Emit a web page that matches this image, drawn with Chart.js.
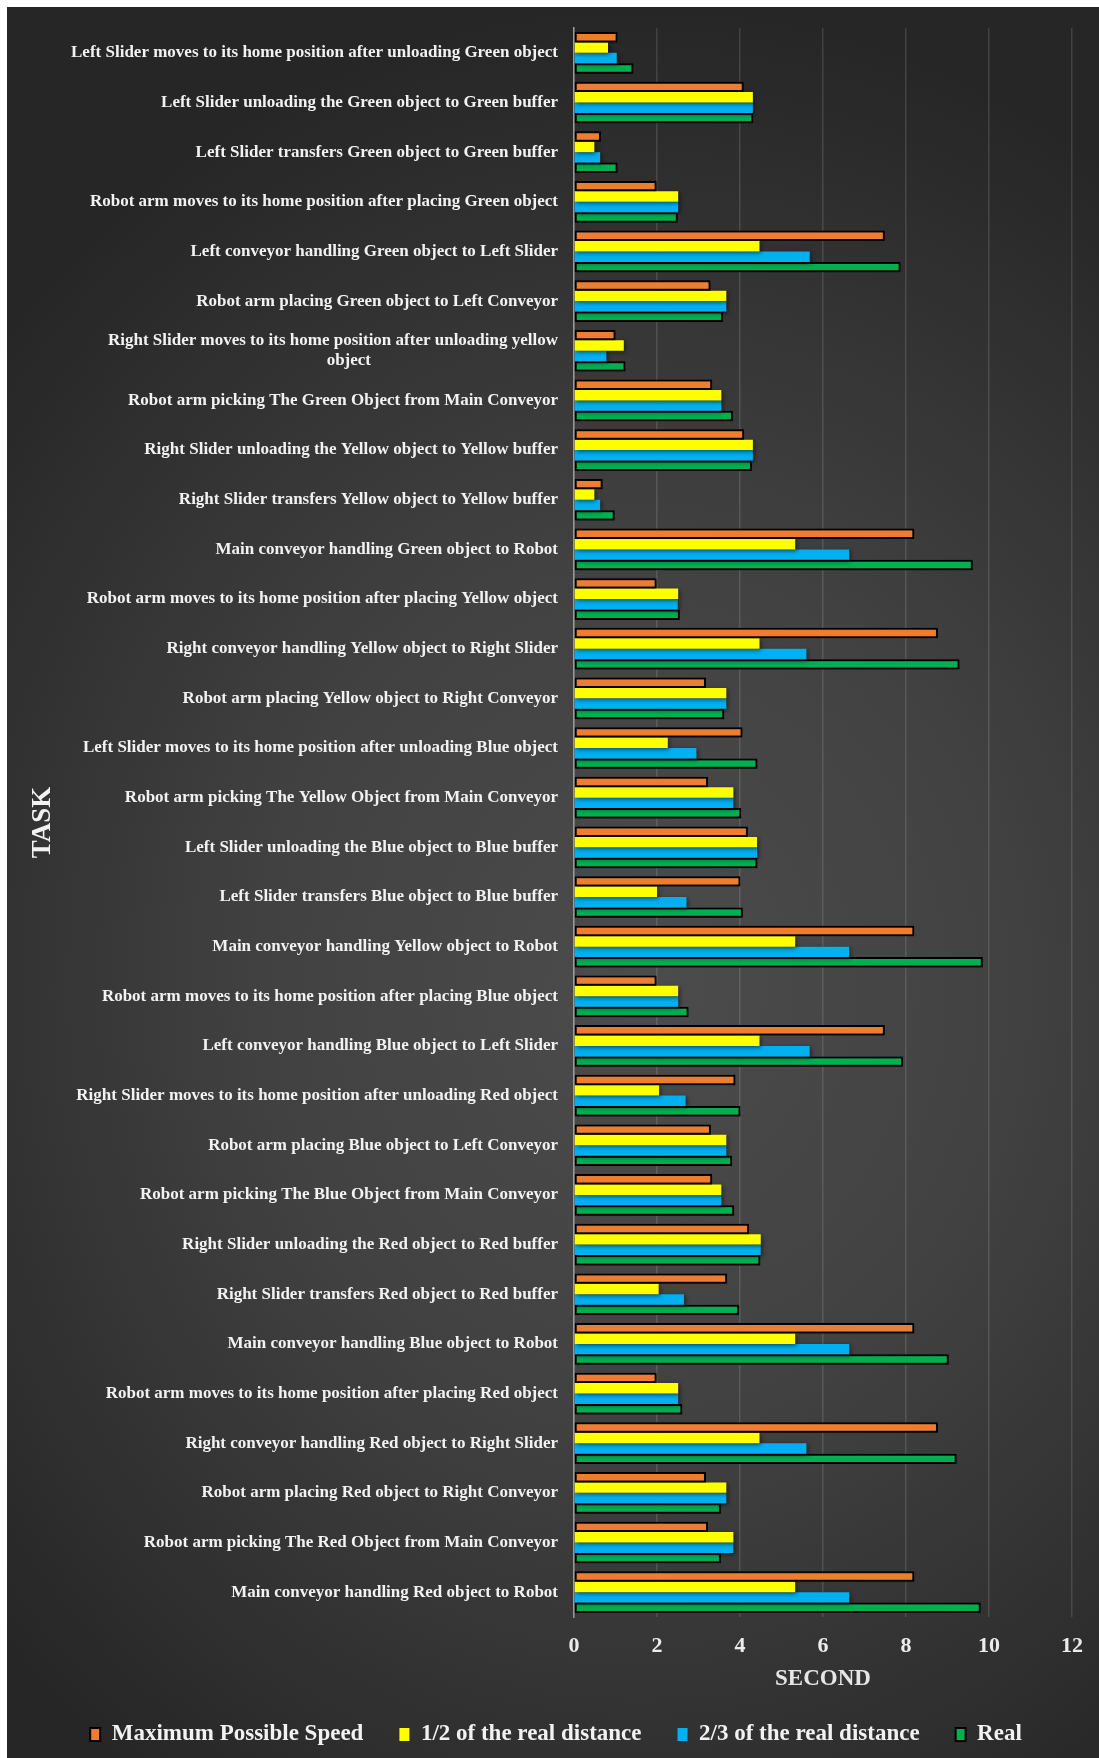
<!DOCTYPE html>
<html>
<head>
<meta charset="utf-8">
<title>Task durations</title>
<script src="https://cdn.jsdelivr.net/npm/chart.js@4.4.1/dist/chart.umd.min.js"></script>
<style>
  html, body { margin: 0; padding: 0; background: #fff; }
  .chart-wrap {
    position: absolute;
    left: 7px;
    top: 7px;
    width: 1092px;
    height: 1751px;
    background: radial-gradient(ellipse 78% 56% at 58% 56%, #4c4c4c 0%, #414141 45%, #262626 100%);
  }
</style>
</head>
<body>
<div class="chart-wrap"><canvas id="taskChart"></canvas></div>
<script>
  const tasks = [
    "Left Slider moves to its home position after unloading Green object",
    "Left Slider unloading the Green object to Green buffer",
    "Left Slider transfers Green object to Green buffer",
    "Robot arm moves to its home position after placing Green object",
    "Left conveyor handling Green object to Left Slider",
    "Robot arm placing Green object to Left Conveyor",
    ["Right Slider moves to its home position after unloading yellow", "object" + "\u00a0".repeat(44)],
    "Robot arm picking The Green Object from Main Conveyor",
    "Right Slider unloading the Yellow object to Yellow buffer",
    "Right Slider transfers Yellow object to Yellow buffer",
    "Main conveyor handling Green object to Robot",
    "Robot arm moves to its home position after placing Yellow object",
    "Right conveyor handling Yellow object to Right Slider",
    "Robot arm placing Yellow object to Right Conveyor",
    "Left Slider moves to its home position after unloading Blue object",
    "Robot arm picking The Yellow Object from Main Conveyor",
    "Left Slider unloading the Blue object to Blue buffer",
    "Left Slider transfers Blue object to Blue buffer",
    "Main conveyor handling Yellow object to Robot",
    "Robot arm moves to its home position after placing Blue object",
    "Left conveyor handling Blue object to Left Slider",
    "Right Slider moves to its home position after unloading Red object",
    "Robot arm placing Blue object to Left Conveyor",
    "Robot arm picking The Blue Object from Main Conveyor",
    "Right Slider unloading the Red object to Red buffer",
    "Right Slider transfers Red object to Red buffer",
    "Main conveyor handling Blue object to Robot",
    "Robot arm moves to its home position after placing Red object",
    "Right conveyor handling Red object to Right Slider",
    "Robot arm placing Red object to Right Conveyor",
    "Robot arm picking The Red Object from Main Conveyor",
    "Main conveyor handling Red object to Robot"
  ];

  // seconds per task, same order as tasks
  const maxSpeed = [1.05, 4.09, 0.65, 1.99, 7.49, 3.29, 1.00, 3.33, 4.10, 0.69, 8.20, 1.99, 8.77, 3.18, 4.06, 3.23,
                    4.19, 4.01, 8.20, 1.99, 7.49, 3.89, 3.30, 3.33, 4.22, 3.69, 8.20, 1.99, 8.77, 3.18, 3.23, 8.20];
  const halfDistance = [0.82, 4.31, 0.49, 2.51, 4.47, 3.67, 1.20, 3.55, 4.31, 0.49, 5.33, 2.51, 4.47, 3.67, 2.26, 3.84,
                        4.41, 2.00, 5.33, 2.51, 4.47, 2.05, 3.67, 3.55, 4.50, 2.04, 5.33, 2.51, 4.47, 3.67, 3.84, 5.33];
  const twoThirdDistance = [1.03, 4.31, 0.63, 2.51, 5.68, 3.67, 0.78, 3.55, 4.31, 0.63, 6.63, 2.50, 5.60, 3.67, 2.95, 3.84,
                            4.41, 2.71, 6.63, 2.51, 5.68, 2.69, 3.67, 3.55, 4.50, 2.65, 6.63, 2.51, 5.60, 3.67, 3.84, 6.63];
  const realTime = [1.43, 4.32, 1.05, 2.50, 7.87, 3.59, 1.24, 3.83, 4.29, 0.98, 9.61, 2.55, 9.29, 3.62, 4.42, 4.03,
                    4.42, 4.07, 9.85, 2.76, 7.93, 4.01, 3.81, 3.86, 4.49, 3.98, 9.03, 2.61, 9.22, 3.54, 3.54, 9.80];

  const xMin = 0, xMax = 12, xStep = 2;

  const serif = "'Liberation Serif', 'Times New Roman', serif";
  const textColor = "#f2f2f2";

  // soft dark shadow under the bars
  const barShadow = {
    id: "barShadow",
    beforeDatasetsDraw(chart) {
      const ctx = chart.ctx;
      ctx.save();
      ctx.shadowColor = "rgba(0,0,0,0.55)";
      ctx.shadowBlur = 4;
      ctx.shadowOffsetX = 1.5;
      ctx.shadowOffsetY = 1.5;
    },
    afterDatasetsDraw(chart) {
      chart.ctx.restore();
    }
  };

  function series(label, data, color, border) {
    return {
      label,
      data,
      backgroundColor: color,
      borderColor: "#000",
      borderWidth: border,
      borderSkipped: false,
      categoryPercentage: 0.84,
      barPercentage: 1.0
    };
  }

  new Chart(document.getElementById("taskChart"), {
    type: "bar",
    data: {
      labels: tasks,
      datasets: [
        series("Maximum Possible Speed", maxSpeed, "#ED7D31", 2),
        series("1/2 of the real distance", halfDistance, "#FFFF00", 0),
        series("2/3 of the real distance", twoThirdDistance, "#00B0F0", 0),
        series("Real", realTime, "#00B050", 2)
      ]
    },
    plugins: [barShadow],
    options: {
      indexAxis: "y",
      responsive: true,
      maintainAspectRatio: false,
      animation: false,
      devicePixelRatio: 1,
      // left padding nudges the centred legend to the right
      layout: { padding: { top: 21, right: 25, bottom: 2, left: 31 } },
      scales: {
        x: {
          min: xMin,
          max: xMax,
          ticks: {
            stepSize: xStep,
            color: "#ececec",
            padding: 16,
            font: { family: serif, size: 22, weight: "bold" }
          },
          grid: { color: "rgba(255,255,255,0.13)", lineWidth: 1.5, drawTicks: false },
          border: { display: false },
          title: {
            display: true,
            text: "SECOND",
            color: "#e6e6e6",
            padding: { top: 0, bottom: -6 },
            font: { family: serif, size: 23, weight: "bold" }
          },
          afterFit(scale) { scale.height = 70; }
        },
        y: {
          ticks: {
            autoSkip: false,
            color: textColor,
            padding: 16,
            font: { family: serif, size: 17, weight: "bold" }
          },
          grid: { display: false, drawTicks: false },
          border: { display: true, color: "#9a9a9a", width: 1.5 },
          title: {
            display: true,
            text: "TASK",
            color: "#f2f2f2",
            padding: { top: -11, bottom: 0 },
            font: { family: serif, size: 27, weight: "bold" }
          },
          afterFit(scale) {
            scale.width = 536;
            // labels sit inside their category bands, no overhang needed
            scale.paddingTop = 0;
            scale.paddingBottom = 0;
          }
        }
      },
      plugins: {
        tooltip: { enabled: false },
        legend: {
          position: "bottom",
          labels: {
            color: textColor,
            boxWidth: 10,
            boxHeight: 13,
            padding: 36,
            font: { family: serif, size: 23, weight: "bold" }
          }
        }
      }
    }
  });
</script>
</body>
</html>
